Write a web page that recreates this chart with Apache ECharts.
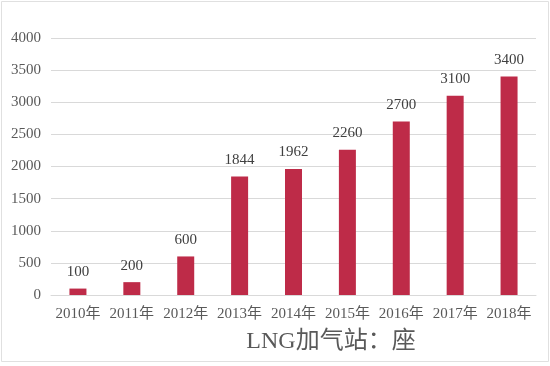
<!DOCTYPE html>
<html><head><meta charset="utf-8">
<script src="https://cdn.jsdelivr.net/npm/echarts@6/dist/echarts.min.js"></script>
<style>html,body{margin:0;padding:0;background:#fff}#c{width:550px;height:366px}</style>
</head><body><div id="c"></div>
<script>
var categories = ['2010年','2011年','2012年','2013年','2014年','2015年','2016年','2017年','2018年'];
var values = [100, 200, 600, 1844, 1962, 2260, 2700, 3100, 3400];
var yTicks = [0, 500, 1000, 1500, 2000, 2500, 3000, 3500, 4000];
var titleText = 'LNG加气站：座';
var FONT = '"Liberation Serif", "Noto Sans CJK SC", serif';
var chart = echarts.init(document.getElementById('c'));
chart.setOption({
  animation: false,
  backgroundColor: '#fff',
  title: {
    text: titleText, left: 326, bottom: 7, textAlign: 'center',
    textStyle: {fontFamily: FONT, fontSize: 24, fontWeight: 'normal', color: '#595959'}
  },
  graphic: [{type: 'rect', shape: {x: 1.5, y: 1.5, width: 547, height: 360}, style: {fill: 'none', stroke: '#e0e0e0', lineWidth: 1}, silent: true}],
  grid: {left: 51, right: 14, top: 38, bottom: 71},
  xAxis: {
    type: 'category', data: categories,
    axisLine: {lineStyle: {color: '#d9d9d9'}},
    axisTick: {show: false},
    axisLabel: {fontFamily: FONT, fontSize: 15, color: '#595959', margin: 12, interval: 0}
  },
  yAxis: {
    type: 'value', min: yTicks[0], max: yTicks[yTicks.length - 1], interval: 500,
    axisLine: {show: false}, axisTick: {show: false},
    splitLine: {lineStyle: {color: '#d9d9d9'}},
    axisLabel: {fontFamily: FONT, fontSize: 15, color: '#595959', margin: 10,
      formatter: function (v) { return String(v); }}
  },
  series: [{
    type: 'bar', data: values, barWidth: 17,
    itemStyle: {color: '#BE2B48'},
    label: {show: true, position: 'top', distance: 9, fontFamily: FONT, fontSize: 15, color: '#404040'}
  }]
});
</script></body></html>
